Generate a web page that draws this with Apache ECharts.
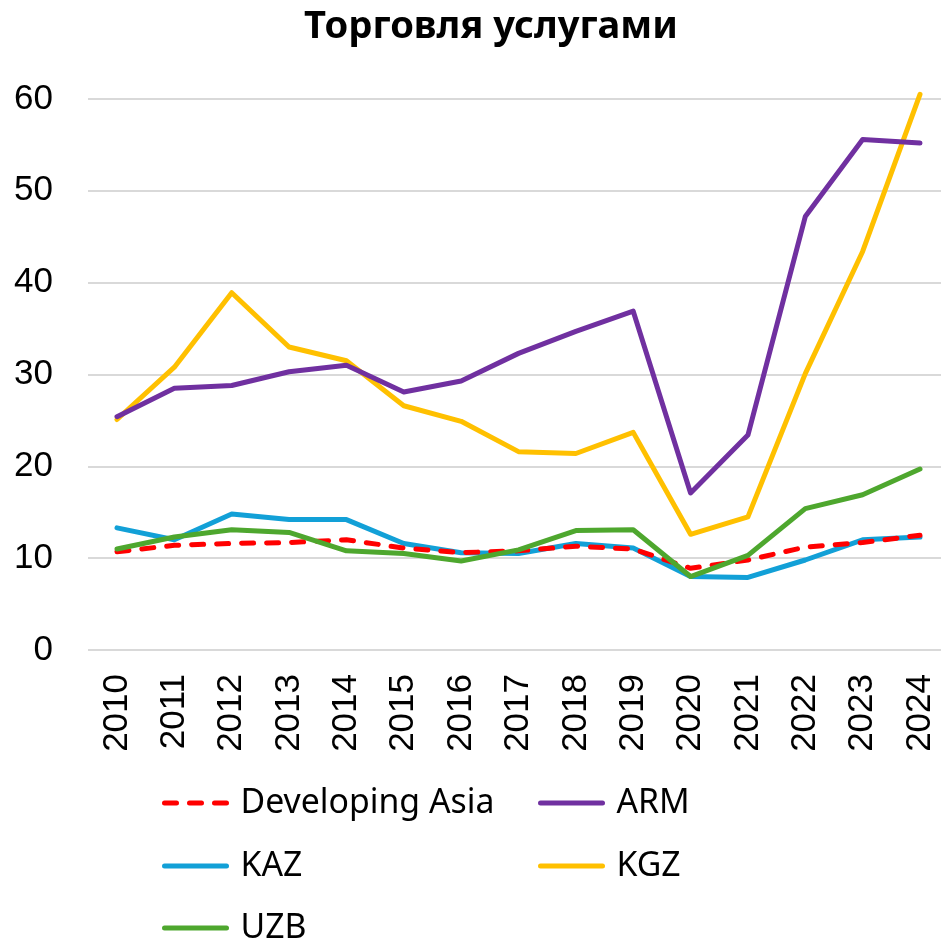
<!DOCTYPE html>
<html><head><meta charset="utf-8">
<script src="https://cdn.jsdelivr.net/npm/echarts@6/dist/echarts.min.js"></script>
<style>html,body{margin:0;padding:0;background:#fff}#c{width:941px;height:941px}</style>
</head><body><div id="c"></div>
<script>
const years = ['2010','2011','2012','2013','2014','2015','2016','2017','2018','2019','2020','2021','2022','2023','2024'];
const devAsia = [10.7,11.4,11.6,11.7,12.0,11.1,10.6,10.8,11.3,11.0,8.9,9.8,11.2,11.7,12.5];
const arm = [25.4,28.5,28.8,30.3,31.0,28.1,29.3,32.3,34.7,36.9,17.1,23.4,47.2,55.6,55.2];
const kaz = [13.3,12.0,14.8,14.2,14.2,11.6,10.6,10.5,11.6,11.1,8.0,7.9,9.8,12.0,12.3];
const kgz = [25.1,30.8,38.9,33.0,31.5,26.6,24.9,21.6,21.4,23.7,12.6,14.5,30.1,43.4,60.5];
const uzb = [11.0,12.3,13.1,12.8,10.8,10.5,9.7,10.9,13.0,13.1,8.0,10.3,15.4,16.9,19.7];
const yTicks = [0,10,20,30,40,50,60];
const titleText = 'Торговля услугами';

const AX_FONT = '"Liberation Sans", Arial, sans-serif';
const TXT_FONT = '"Noto Sans", "DejaVu Sans", sans-serif';
function fitSize(text, weight, target, base){
  const ctx = document.createElement('canvas').getContext('2d');
  ctx.font = weight + ' ' + base + 'px ' + TXT_FONT;
  const w = ctx.measureText(text).width;
  return Math.max(20, Math.min(48, base * target / w));
}
function draw(){
const legSize = fitSize('Developing Asia', 'normal', 254, 29);
const titleSize = fitSize(titleText, 'bold', 374, 35);
const chart = echarts.init(document.getElementById('c'), null, {renderer:'canvas'});
function ser(name, data, color, dashed){
  return {name, type:'line', data, xAxisIndex:1, yAxisIndex:1, symbol:'none', showSymbol:false, clip:false,
    lineStyle:{color, width:5, type: dashed ? [12,13] : 'solid', cap:'round', join:'round'},
    itemStyle:{color}};
}
function leg(name, left, top){
  return {data:[name], left, top, itemWidth:62, itemHeight:16,
    itemStyle:{opacity:0}, lineStyle:{width:5, cap:'round'},
    textStyle:{fontSize:legSize, color:'#000', fontFamily:TXT_FONT, padding:[0,0,0,9]}};
}
const yMin = yTicks[0], yMax = yTicks[yTicks.length-1];
chart.setOption({
  animation:false,
  title:{text:titleText, left:486, textAlign:'center', top:3,
    textStyle:{fontSize:titleSize, fontWeight:'bold', color:'#000', fontFamily:TXT_FONT}},
  grid:[
    {left:88, right:0, top:99, bottom:291},
    {left:117, right:21, top:99, bottom:291}
  ],
  xAxis:[
    {gridIndex:0, type:'value', show:false, min:0, max:1},
    {gridIndex:1, type:'category', data:years, boundaryGap:false,
      axisLine:{show:false}, axisTick:{show:false}, splitLine:{show:false},
      axisLabel:{rotate:90, fontSize:35, color:'#000', fontFamily:AX_FONT, margin:24}}
  ],
  yAxis:[
    {gridIndex:0, type:'value', min:yMin, max:yMax, interval:10,
      axisLine:{show:false}, axisTick:{show:false},
      splitLine:{lineStyle:{color:'#d9d9d9', width:2}},
      axisLabel:{fontSize:35, color:'#000', fontFamily:AX_FONT, margin:35}},
    {gridIndex:1, type:'value', min:yMin, max:yMax, interval:10, show:false, splitLine:{show:false}}
  ],
  legend:[
    leg('Developing Asia',157,781),
    leg('ARM',533,781),
    leg('KAZ',157,844),
    leg('KGZ',533,844),
    leg('UZB',157,906)
  ],
  series:[
    ser('KGZ', kgz, '#FFC000'),
    ser('ARM', arm, '#7030A0'),
    ser('KAZ', kaz, '#12A0D7'),
    ser('Developing Asia', devAsia, '#FF0000', true),
    ser('UZB', uzb, '#4EA72E')
  ]
});
}
if (document.fonts && document.fonts.load) {
  Promise.all([
    document.fonts.load('29px "Noto Sans"'),
    document.fonts.load('bold 35px "Noto Sans"'),
    document.fonts.load('35px "Liberation Sans"')
  ]).then(draw, draw);
} else { draw(); }
</script></body></html>
